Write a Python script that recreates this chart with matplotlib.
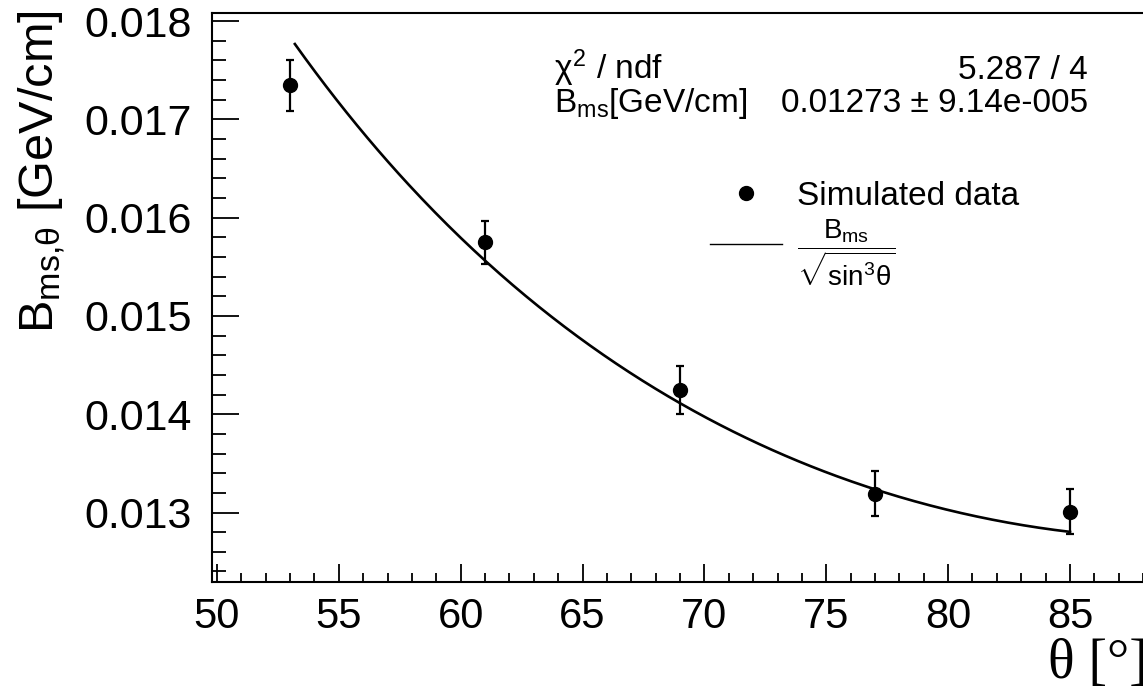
import numpy as np
import matplotlib
matplotlib.use('Agg')  # no display
import matplotlib.pyplot as plt
from matplotlib.lines import Line2D
from matplotlib.ticker import MultipleLocator, FormatStrFormatter

# simulated points
theta = [53, 61, 69, 77, 85]
b_ms = [0.017345, 0.015749, 0.014249, 0.013193, 0.013007]
b_err = [0.000258, 0.000217, 0.000243, 0.000225, 0.000229]

# fit result shown in the stats box
b_fit = 0.01273
fit_range = [53.2, 85]
chi2_text = '5.287 / 4'
par_text = '0.01273 ± 9.14e-005'

plt.rcParams['font.family'] = ['Liberation Sans', 'DejaVu Sans']
plt.rcParams['mathtext.fontset'] = 'custom'
plt.rcParams['mathtext.rm'] = 'Liberation Sans'
plt.rcParams['mathtext.it'] = 'Liberation Sans'
plt.rcParams['mathtext.sf'] = 'Liberation Sans'
plt.rcParams['mathtext.bf'] = 'Liberation Sans:bold'

W, H = 1143, 688


def px(x, y):
    # pixel position -> figure fraction
    return (x / W, 1 - y / H)


fig = plt.figure(figsize=(W / 100, H / 100), dpi=100)
# frame runs a little past the right edge, like the cropped original
ax = fig.add_axes([212 / W, 1 - 581.7 / H, (1148 - 212) / W, (581.7 - 12.7) / H])

ax.set_xlim(49.8, 88.2)
ax.set_ylim(0.012296, 0.018085)

# fit curve
th = np.linspace(fit_range[0], fit_range[1], 300)
ax.plot(th, b_fit / np.sqrt(np.sin(np.radians(th)) ** 3), color='k', lw=1.9)

ax.errorbar(theta, b_ms, yerr=b_err, fmt='o', color='k', ms=10,
            elinewidth=1.6, capsize=2.8, capthick=1.6)

# axes styling, ROOT-like
for s in ax.spines.values():
    s.set_linewidth(1.5)
ax.xaxis.set_major_locator(MultipleLocator(5))
ax.xaxis.set_minor_locator(MultipleLocator(1))
ax.yaxis.set_major_locator(MultipleLocator(0.001))
ax.yaxis.set_minor_locator(MultipleLocator(0.0002))
ax.yaxis.set_major_formatter(FormatStrFormatter('%.3f'))
ax.tick_params(axis='both', which='both', direction='in', width=1.3,
               top=False, right=False)
ax.tick_params(axis='y', which='major', length=19.4, labelsize=31, pad=14.5)
ax.tick_params(axis='y', which='minor', length=10)
ax.tick_params(axis='x', which='major', length=13, labelsize=30, pad=11)
ax.tick_params(axis='x', which='minor', length=6.5)

# legend
handles = [Line2D([], [], marker='o', ls='none', color='k', ms=10),
           Line2D([], [], color='k', lw=1)]
labels = ['Simulated data',
          r'$\dfrac{B_{\mathregular{ms}}}{\sqrt{\mathregular{sin}^{3}\theta}}$']
leg = ax.legend(handles, labels, loc='upper left', bbox_to_anchor=px(710, 181),
                bbox_transform=fig.transFigure, frameon=False, fontsize=24,
                handlelength=2.15, handletextpad=0.45, borderpad=0,
                borderaxespad=0, labelspacing=0.15)
leg.get_texts()[1].set_fontsize(20)

# stats box text
fig.text(*px(554, 79), r'$\chi^{2}$ / ndf', fontsize=24, va='baseline')
fig.text(*px(1088, 79), chi2_text, fontsize=24, ha='right', va='baseline')
fig.text(*px(554, 112), r'B$_{\mathregular{ms}}$[GeV/cm]', fontsize=24,
         va='baseline')
fig.text(*px(1088, 112), par_text, fontsize=24, ha='right', va='baseline')

# axis titles
fig.text(*px(16, 10), r'B$_{\mathregular{ms{,}\theta}}$ [GeV/cm]', rotation=90,
         ha='left', va='top', fontsize=35)
fig.text(*px(1148, 678), 'θ [°]', ha='right', va='baseline', fontsize=40,
         family=['Liberation Serif', 'DejaVu Serif'])

fig.savefig('out.png', dpi=100)
